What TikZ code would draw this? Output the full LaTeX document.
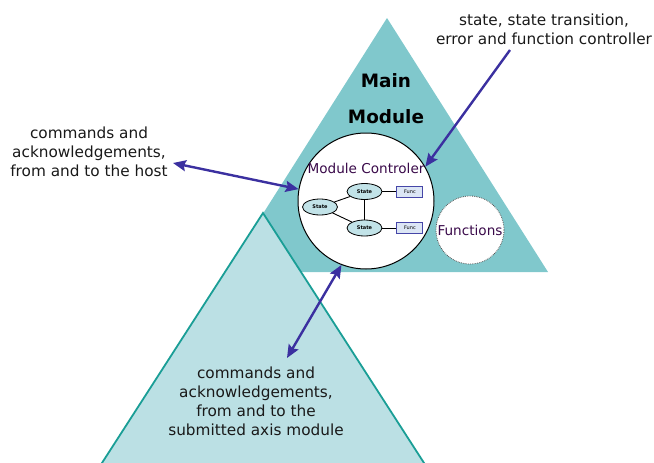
\documentclass[tikz,border=0pt]{standalone}
\usepackage{fontspec}
\setmainfont{DejaVu Sans}
\usetikzlibrary{arrows.meta,positioning,shapes.geometric}

\definecolor{mainteal}{HTML}{80C8CC}
\definecolor{subteal}{HTML}{BBE0E4}
\definecolor{tealline}{HTML}{1A9E96}
\definecolor{arrowblue}{HTML}{3B30A0}
\definecolor{statefill}{HTML}{C2E3E8}
\definecolor{funcfill}{HTML}{DCE6F5}
\definecolor{funcline}{HTML}{4646A8}
\definecolor{ctrltext}{HTML}{3A0A4A}

\begin{document}
\begin{tikzpicture}[
  x=1pt, y=-1pt,
  lbl/.style={align=center, font=\fontsize{15.3}{19}\selectfont, text=black!90},
  ctrl/.style={circle, draw=black, line width=1pt, fill=white,
               minimum size=136pt, inner sep=0pt},
  funcs/.style={circle, draw=black!65, densely dotted, thick, fill=white,
                minimum size=68pt, inner sep=0pt,
                font=\fontsize{13.6}{15}\selectfont, text=ctrltext},
  state/.style={ellipse, draw=black, line width=0.8pt, fill=statefill,
                minimum width=35pt, minimum height=16pt, inner sep=0pt,
                font=\fontsize{5}{5}\selectfont\bfseries},
  funcbox/.style={rectangle, draw=funcline, line width=1pt, fill=funcfill,
                  minimum width=26pt, minimum height=11pt, inner sep=0pt,
                  font=\fontsize{5}{5}\selectfont},
  link/.style={draw=black, line width=0.9pt},
  arr/.style={draw=arrowblue, line width=2.4pt,
              -{Stealth[length=13pt, width=11pt, inset=2pt]}},
  twoway/.style={arr, {Stealth[length=13pt, width=11pt, inset=2pt]}-{Stealth[length=13pt, width=11pt, inset=2pt]}},
]
  \useasboundingbox (0,0) rectangle (654,463);

  % main module and submitted axis module
  \fill[mainteal] (387,18) -- (548,272) -- (226,272) -- cycle;
  \draw[tealline, line width=1.8pt, fill=subteal]
       (263,213) -- (435,480) -- (91,480) -- cycle;

  \node[font=\fontsize{18.4}{36}\selectfont\bfseries, align=center]
       (mainlbl) at (386,99) {Main\\Module};

  % module controller
  \node[ctrl] (ctrl) at (366,201) {};
  \node[font=\fontsize{13.6}{15}\selectfont, text=ctrltext]
       (ctrllbl) at (366,168) {Module Controler};
  \node[state] (s1) at (320,207) {State};
  \node[state] (s2) at (364.5,191.5) {State};
  \node[state] (s3) at (364.5,228) {State};
  \node[funcbox, right=14pt of s2] (f1) {Func};
  \node[funcbox, right=14pt of s3] (f2) {Func};
  \draw[link] (s1) -- (s2);
  \draw[link] (s1) -- (s3);
  \draw[link] (s2) -- (s3);
  \draw[link] (s2) -- (f1);
  \draw[link] (s3) -- (f2);

  \node[funcs] (funcs) at (470,230) {Functions};

  % labels
  \node[lbl] (host) at (89,152)
       {commands and\\acknowledgements,\\from and to the host};
  \node[lbl] (ctrlnote) at (544,29)
       {state, state transition,\\error and function controller};
  \node[lbl] (axis) at (256,401)
       {commands and\\acknowledgements,\\from and to the\\submitted axis module};

  % arrows
  \coordinate (hostend) at (173,163);
  \coordinate (noteend) at (510,50);
  \coordinate (axisend) at (287,358);
  \draw[twoway] (hostend) -- (ctrl.170);
  \draw[arr] (noteend) -- (ctrl.30);
  \draw[twoway] (ctrl.249) -- (axisend);

\end{tikzpicture}
\end{document}
